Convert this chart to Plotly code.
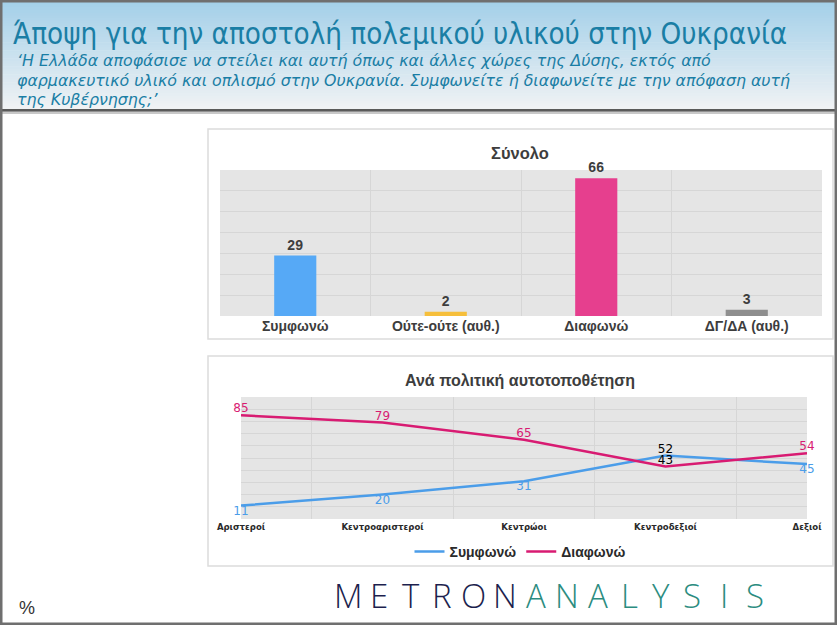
import plotly.graph_objects as go

W, H = 837, 625

# ---------------- data ----------------
bar_categories = ["Συμφωνώ", "Ούτε-ούτε (αυθ.)", "Διαφωνώ", "ΔΓ/ΔΑ (αυθ.)"]
bar_values = [29, 2, 66, 3]
bar_colors = ["#56a9f6", "#f6bf3b", "#e63f8e", "#8e8e8e"]

line_categories = ["Αριστεροί", "Κεντροαριστεροί", "Κεντρώοι", "Κεντροδεξιοί", "Δεξιοί"]
agree_values = [11, 20, 31, 52, 45]
disagree_values = [85, 79, 65, 43, 54]

title_text = "Άποψη για την αποστολή πολεμικού υλικού στην Ουκρανία"
subtitle_lines = [
    "‘Η Ελλάδα αποφάσισε να στείλει και αυτή όπως και άλλες χώρες της Δύσης, εκτός από",
    "φαρμακευτικό υλικό και οπλισμό στην Ουκρανία. Συμφωνείτε ή διαφωνείτε με την απόφαση αυτή",
    "της Κυβέρνησης;’",
]
bar_title = "Σύνολο"
line_title = "Ανά πολιτική αυτοτοποθέτηση"
logo_left = "METRON"
logo_right = "ANALYSIS"

BLUE = "#4b9de9"
PINK = "#d81b72"
GRID = "#d6d6d6"
PLOTBG = "#e5e5e5"
HEAD_FONT = "DejaVu Sans Condensed, Liberation Sans Narrow, Arial Narrow"


def px(x):
    return x / W


def py(y):
    return 1 - y / H


fig = go.Figure()

# bar chart
fig.add_trace(go.Bar(
    x=bar_categories, y=bar_values, marker=dict(color=bar_colors, line=dict(width=0)),
    width=0.28, text=[str(v) for v in bar_values], textposition="outside",
    textfont=dict(family="Liberation Sans, Arial", size=14, color="#3d3d3d", weight="bold"),
    cliponaxis=False, showlegend=False, xaxis="x", yaxis="y", hoverinfo="skip"))

# line chart
fig.add_trace(go.Scatter(
    x=line_categories, y=agree_values, mode="lines+text", name="Συμφωνώ",
    line=dict(color=BLUE, width=2.5),
    text=[str(v) for v in agree_values],
    textposition=["bottom center", "bottom center", "bottom center", "top center", "bottom center"],
    textfont=dict(family="DejaVu Sans, Verdana", size=12,
                  color=[BLUE, BLUE, BLUE, "#000000", BLUE]),
    cliponaxis=False, xaxis="x2", yaxis="y2"))
fig.add_trace(go.Scatter(
    x=line_categories, y=disagree_values, mode="lines+text", name="Διαφωνώ",
    line=dict(color=PINK, width=2.5),
    text=[str(v) for v in disagree_values],
    textposition="top center",
    textfont=dict(family="DejaVu Sans, Verdana", size=12,
                  color=[PINK, PINK, PINK, "#000000", PINK]),
    cliponaxis=False, xaxis="x2", yaxis="y2"))

shapes = []
# header gradient
top_c = (164, 208, 233)
bot_c = (240, 242, 244)
n = 40
y_top, y_bot = 2, 109
for i in range(n):
    t = i / (n - 1)
    c = tuple(int(round(top_c[k] + (bot_c[k] - top_c[k]) * t)) for k in range(3))
    ya = y_top + (y_bot - y_top) * i / n
    yb = y_top + (y_bot - y_top) * (i + 1) / n + 0.6
    shapes.append(dict(type="rect", xref="paper", yref="paper", x0=px(2), x1=px(835),
                       y0=py(yb), y1=py(ya), line=dict(width=0),
                       fillcolor="rgb(%d,%d,%d)" % c, layer="below"))
# header bottom line + shadow
shapes.append(dict(type="rect", xref="paper", yref="paper", x0=px(2), x1=px(835), y0=py(114), y1=py(110),
                   line=dict(width=0), fillcolor="#c8c8c8", layer="below"))
shapes.append(dict(type="rect", xref="paper", yref="paper", x0=px(2), x1=px(835), y0=py(111.5), y1=py(109),
                   line=dict(width=0), fillcolor="#5a5a5a", layer="below"))
# panel borders
shapes.append(dict(type="rect", xref="paper", yref="paper", x0=px(208), x1=px(833), y0=py(339), y1=py(129),
                   line=dict(color="#dcdcdc", width=1.5), fillcolor="rgba(0,0,0,0)", layer="below"))
shapes.append(dict(type="rect", xref="paper", yref="paper", x0=px(208), x1=px(833), y0=py(566), y1=py(356),
                   line=dict(color="#dcdcdc", width=1.5), fillcolor="rgba(0,0,0,0)", layer="below"))
# outer frame
shapes.append(dict(type="rect", xref="paper", yref="paper", x0=px(1), x1=px(836), y0=py(624), y1=py(1),
                   line=dict(color="#6f6f6f", width=3), fillcolor="rgba(0,0,0,0)", layer="above"))

annotations = [
    dict(text=title_text, x=px(11), y=py(34), xref="paper", yref="paper", xanchor="left", yanchor="middle",
         showarrow=False, font=dict(family=HEAD_FONT, size=29.3, color="#1a7ea5")),
    dict(text=bar_title, x=px(520), y=py(153), xref="paper", yref="paper", xanchor="center", yanchor="middle",
         showarrow=False, font=dict(family="Liberation Sans, Arial", size=16.5, color="#3d3d3d", weight="bold")),
    dict(text=line_title, x=px(520), y=py(380), xref="paper", yref="paper", xanchor="center", yanchor="middle",
         showarrow=False, font=dict(family="Liberation Sans, Arial", size=16, color="#3d3d3d", weight="bold")),
    dict(text="%", x=px(27), y=py(608), xref="paper", yref="paper", xanchor="center", yanchor="middle",
         showarrow=False, font=dict(family="Liberation Sans, Arial", size=18, color="#333333")),
]
for i, line in enumerate(subtitle_lines):
    annotations.append(dict(text=line, x=px(15), y=py(60.5 + 19.5 * i), xref="paper", yref="paper",
                            xanchor="left", yanchor="middle", showarrow=False,
                            font=dict(family="DejaVu Sans, Verdana", size=15.8, color="#1a7ea5",
                                      style="italic")))

# logo, letter-spaced
logo = logo_left + logo_right
x_start, step = 348, 31.3
for i, ch in enumerate(logo):
    col = "#1d1f4e" if i < len(logo_left) else "#2b8c80"
    annotations.append(dict(text=ch, x=px(x_start + i * step), y=py(595), xref="paper", yref="paper",
                            xanchor="center", yanchor="middle", showarrow=False,
                            font=dict(family="Open Sans, Lato, Roboto", size=33, color=col, weight=300)))

fig.update_layout(
    width=W, height=H, margin=dict(l=0, r=0, t=0, b=0, pad=0, autoexpand=False),
    paper_bgcolor="white", plot_bgcolor=PLOTBG,
    shapes=shapes, annotations=annotations,
    xaxis=dict(domain=[px(220), px(822)], anchor="y", type="category", tickson="boundaries", automargin=False,
               showgrid=True, gridcolor=GRID, gridwidth=1, ticks="", showline=False, zeroline=False,
               tickfont=dict(family="Liberation Sans, Arial", size=14, color="#3d3d3d", weight="bold")),
    yaxis=dict(domain=[py(316), py(170)], anchor="x", range=[0, 70], dtick=10, showticklabels=False,
               automargin=False,
               showgrid=True, gridcolor=GRID, gridwidth=1, zeroline=False, ticks=""),
    xaxis2=dict(domain=[px(241), px(807)], anchor="y2", type="category", range=[0, 4], tickson="boundaries",
                automargin=False,
                showgrid=True, gridcolor=GRID, gridwidth=1, ticks="", showline=False, zeroline=False,
                tickfont=dict(family="DejaVu Sans Condensed, DejaVu Sans, Verdana", size=9.5, color="#2a2a2a",
                              weight="bold")),
    yaxis2=dict(domain=[py(519), py(397)], anchor="x2", range=[0, 100], dtick=10, showticklabels=False,
                automargin=False,
                showgrid=True, gridcolor=GRID, gridwidth=1, zeroline=False, ticks=""),
    legend=dict(orientation="h", x=px(520), y=py(552), xanchor="center", yanchor="middle",
                font=dict(family="Liberation Sans, Arial", size=14, color="#2a2a2a", weight="bold"),
                bgcolor="rgba(0,0,0,0)", itemwidth=30),
    font=dict(family="Liberation Sans, Arial"),
)

fig.write_html("out.html")
